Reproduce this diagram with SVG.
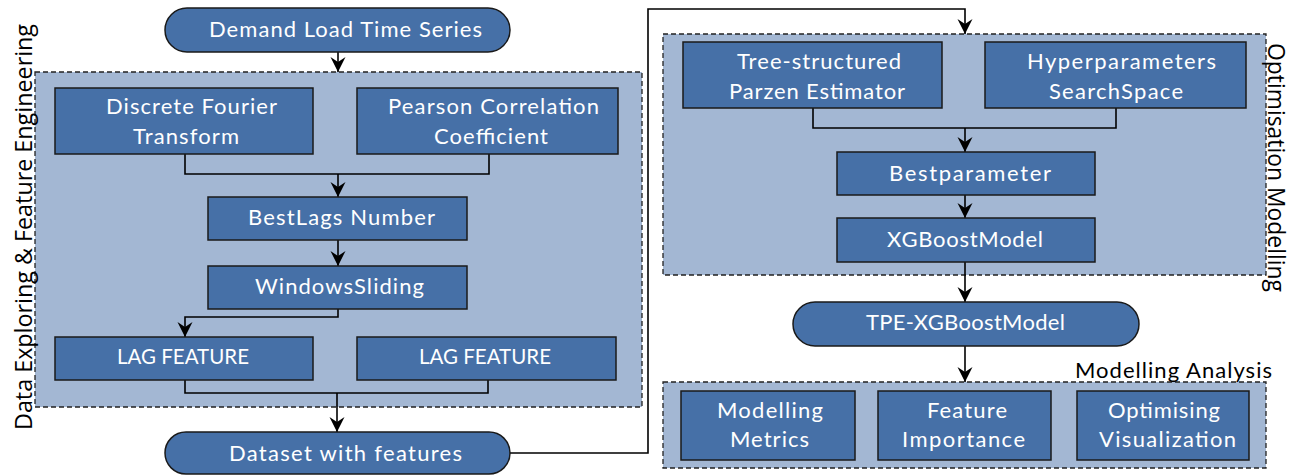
<svg xmlns="http://www.w3.org/2000/svg" width="1301" height="476" viewBox="0 0 1301 476">
<defs>
<style>
.grp{fill:#a3b7d3;stroke:#222;stroke-width:1.3;stroke-dasharray:5,3}
.box{fill:#4670a7;stroke:#1a1a1a;stroke-width:1.5}
.t{font-family:Lato,"Liberation Sans",sans-serif;font-size:22px;fill:#fff;text-anchor:middle}
.lbl{font-family:"Open Sans","DejaVu Sans",sans-serif;fill:#000;text-anchor:middle}
.lbl2{font-family:Lato,"Liberation Sans",sans-serif;font-size:22px;fill:#000;text-anchor:middle}
.c{fill:none;stroke:#000;stroke-width:1.6}
</style>
<marker id="ah" markerWidth="16" markerHeight="16" refX="15" refY="8" orient="auto" markerUnits="userSpaceOnUse">
<path d="M0,0.5 L15,8 L0,15.5 L5,8 Z" fill="#000"/>
</marker>
</defs>
<g id="group-feature">
<rect class="grp" x="35" y="72" width="607" height="335"/>
<text class="lbl" font-size="24" transform="translate(32,227) rotate(-90)" textLength="406" lengthAdjust="spacingAndGlyphs">Data Exploring &amp; Feature Engineering</text>
</g>
<g id="group-optim">
<rect class="grp" x="663" y="34" width="603" height="241"/>
<text class="lbl" font-size="24" transform="translate(1268,167.5) rotate(90)" textLength="249" lengthAdjust="spacingAndGlyphs">Optimisation Modelling</text>
</g>
<g id="group-analysis">
<rect class="grp" x="663" y="382" width="603" height="86"/>
<text class="lbl2" x="1173.5" y="378" textLength="197" lengthAdjust="spacing">Modelling Analysis</text>
</g>
<g id="connectors">
<path class="c" d="M338,52 V72" marker-end="url(#ah)"/>
<path class="c" d="M185,154 V174 H489 V154"/>
<path class="c" d="M338,174 V197" marker-end="url(#ah)"/>
<path class="c" d="M338,240 V266" marker-end="url(#ah)"/>
<path class="c" d="M338,309 V317 H185 V337" marker-end="url(#ah)"/>
<path class="c" d="M185,380 V393 H488 V380"/>
<path class="c" d="M337,393 V432" marker-end="url(#ah)"/>
<path class="c" d="M510,453 H648 V9 H965 V34" marker-end="url(#ah)"/>
<path class="c" d="M813,108 V128 H1116 V108"/>
<path class="c" d="M965,128 V152" marker-end="url(#ah)"/>
<path class="c" d="M965,195 V218" marker-end="url(#ah)"/>
<path class="c" d="M965,262 V302" marker-end="url(#ah)"/>
<path class="c" d="M965,346 V382" marker-end="url(#ah)"/>
</g>
<g id="n-demand">
<rect class="box" x="165" y="8" width="345" height="44" rx="22"/>
<text class="t" x="345.5" y="37" textLength="273" lengthAdjust="spacing">Demand Load Time Series</text>
</g>
<g id="n-dft">
<rect class="box" x="55" y="88" width="258" height="66"/>
<text class="t" x="191.5" y="114" textLength="171" lengthAdjust="spacing">Discrete Fourier</text>
<text class="t" x="186" y="144" textLength="106" lengthAdjust="spacing">Transform</text>
</g>
<g id="n-pearson">
<rect class="box" x="357" y="88" width="261" height="66"/>
<text class="t" x="493.5" y="114" textLength="211" lengthAdjust="spacing">Pearson Correlation</text>
<text class="t" x="491" y="144" textLength="114" lengthAdjust="spacing">Coefficient</text>
</g>
<g id="n-bestlags">
<rect class="box" x="208" y="197" width="259" height="43"/>
<text class="t" x="341.5" y="225" textLength="187" lengthAdjust="spacing">BestLags Number</text>
</g>
<g id="n-windows">
<rect class="box" x="208" y="266" width="259" height="43"/>
<text class="t" x="339.5" y="294" textLength="169" lengthAdjust="spacing">WindowsSliding</text>
</g>
<g id="n-lag1">
<rect class="box" x="55" y="337" width="258" height="43"/>
<text class="t" x="183" y="364" textLength="132" lengthAdjust="spacingAndGlyphs">LAG FEATURE</text>
</g>
<g id="n-lag2">
<rect class="box" x="357" y="337" width="259" height="43"/>
<text class="t" x="485" y="364" textLength="132" lengthAdjust="spacingAndGlyphs">LAG FEATURE</text>
</g>
<g id="n-dataset">
<rect class="box" x="165" y="432" width="345" height="42" rx="21"/>
<text class="t" x="345.5" y="461" textLength="233" lengthAdjust="spacing">Dataset with features</text>
</g>
<g id="n-tpe">
<rect class="box" x="683" y="42" width="259" height="66"/>
<text class="t" x="819" y="69" textLength="164" lengthAdjust="spacing">Tree-structured</text>
<text class="t" x="817" y="99" textLength="176" lengthAdjust="spacing">Parzen Estimator</text>
</g>
<g id="n-hyper">
<rect class="box" x="985" y="42" width="261" height="66"/>
<text class="t" x="1121.5" y="69" textLength="189" lengthAdjust="spacing">Hyperparameters</text>
<text class="t" x="1116" y="99" textLength="134" lengthAdjust="spacing">SearchSpace</text>
</g>
<g id="n-bestparam">
<rect class="box" x="837" y="152" width="258" height="43"/>
<text class="t" x="970" y="181" textLength="162" lengthAdjust="spacing">Bestparameter</text>
</g>
<g id="n-xgb">
<rect class="box" x="837" y="218" width="258" height="44"/>
<text class="t" x="965" y="247" textLength="156" lengthAdjust="spacing">XGBoostModel</text>
</g>
<g id="n-tpexgb">
<rect class="box" x="793" y="302" width="346" height="44" rx="22"/>
<text class="t" x="965.5" y="330" textLength="199" lengthAdjust="spacing">TPE-XGBoostModel</text>
</g>
<g id="n-metrics">
<rect class="box" x="681" y="391" width="174" height="69"/>
<text class="t" x="770" y="418" textLength="106" lengthAdjust="spacing">Modelling</text>
<text class="t" x="769.5" y="447" textLength="79" lengthAdjust="spacing">Metrics</text>
</g>
<g id="n-importance">
<rect class="box" x="878" y="391" width="173" height="69"/>
<text class="t" x="967" y="418" textLength="80" lengthAdjust="spacing">Feature</text>
<text class="t" x="963.5" y="447" textLength="123" lengthAdjust="spacing">Importance</text>
</g>
<g id="n-visual">
<rect class="box" x="1077" y="391" width="172" height="69"/>
<text class="t" x="1164" y="418" textLength="112" lengthAdjust="spacing">Optimising</text>
<text class="t" x="1167.5" y="447" textLength="137" lengthAdjust="spacing">Visualization</text>
</g>
</svg>
